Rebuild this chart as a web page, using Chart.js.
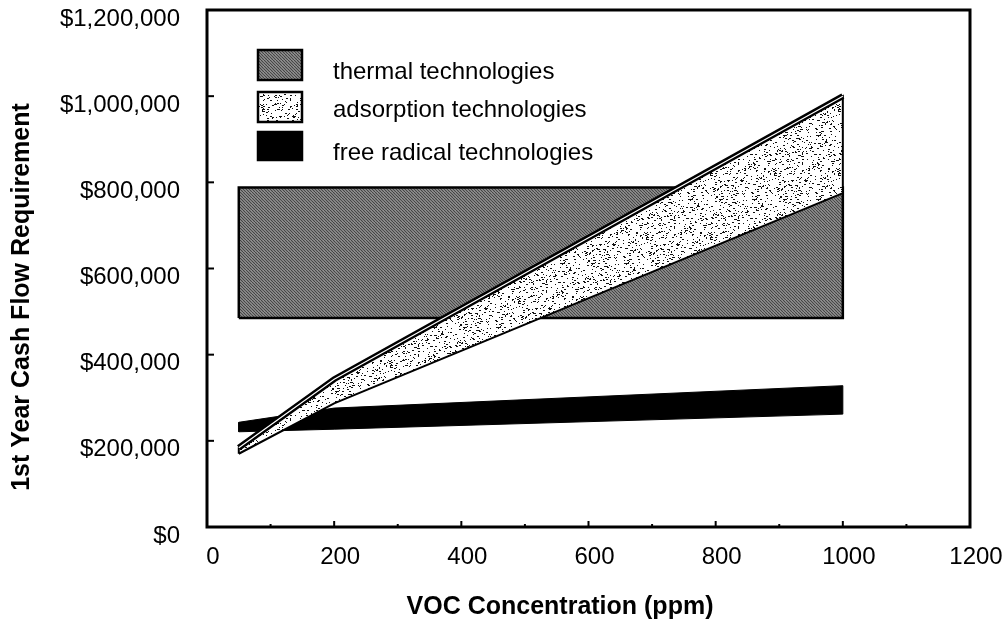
<!DOCTYPE html>
<html>
<head>
<meta charset="utf-8">
<script src="https://cdn.jsdelivr.net/npm/chart.js@4.4.1/dist/chart.umd.min.js"></script>
<style>
  html, body { margin: 0; padding: 0; background: #fff; }
  #wrap { width: 1005px; height: 628px; }
</style>
</head>
<body>
<div id="wrap"><canvas id="costChart" width="1005" height="628"></canvas></div>
<script>
/* ---------- DATA ---------- */
// VOC concentration (ppm) where each band starts / bends / ends
let thermalPpm = [50, 1000];
let thermalLow = [485000, 485000];
let thermalHigh = [788000, 788000];

let adsorptionPpm = [50, 200, 1000];
let adsorptionLow = [170000, 287000, 775000];
let adsorptionHigh = [184000, 343000, 1000000];

let radicalPpm = [50, 200, 1000];
let radicalLow = [221000, 227000, 262000];
let radicalHigh = [243000, 276000, 328000];

let legendLabels = ["thermal technologies", "adsorption technologies", "free radical technologies"];

const FONT = "'Liberation Sans', Arial, sans-serif";

/* ---------- FILL TEXTURES ---------- */
function hatchPattern(ctx) {
    let c = document.createElement("canvas");
    c.width = 6; c.height = 6;
    let g = c.getContext("2d");
    g.fillStyle = "#a2a2a2";
    g.fillRect(0, 0, 6, 6);
    g.strokeStyle = "#444";
    g.lineWidth = 1.2;
    for (let k = -6; k <= 12; k += 3) {
        g.beginPath();
        g.moveTo(k, 0);
        g.lineTo(k + 6, 6);
        g.stroke();
    }
    return ctx.createPattern(c, "repeat");
}

function stipplePattern(ctx) {
    let c = document.createElement("canvas");
    c.width = 64; c.height = 64;
    let g = c.getContext("2d");
    g.fillStyle = "#fff";
    g.fillRect(0, 0, 64, 64);
    g.fillStyle = "#111";
    let s = 12345;
    for (let k = 0; k < 420; k++) {
        s = (s * 16807) % 2147483647;
        let px = s % 64;
        s = (s * 16807) % 2147483647;
        let py = s % 64;
        g.fillRect(px, py, (k % 3 === 0) ? 2 : 1, 1);
    }
    return ctx.createPattern(c, "repeat");
}

// closed outline: along the low edge, back along the high edge
function band(ppm, low, high) {
    let pts = ppm.map((x, i) => ({ x: x, y: low[i] }));
    for (let i = ppm.length - 1; i >= 0; i--) pts.push({ x: ppm[i], y: high[i] });
    pts.push({ x: ppm[0], y: low[0] });
    return pts;
}

let canvas = document.getElementById("costChart");
let ctx = canvas.getContext("2d");
let hatch = hatchPattern(ctx);
let stipple = stipplePattern(ctx);

/* ---------- FRAME, TICKS, LEGEND, TITLES ---------- */
const decorations = {
    id: "decorations",
    afterDatasetsDraw(chart) {
        let c = chart.ctx;
        let a = chart.chartArea;
        let xs = chart.scales.x;
        let ys = chart.scales.y;
        c.save();
        c.strokeStyle = "#000";
        c.lineWidth = 3;
        c.strokeRect(a.left, a.top, a.right - a.left, a.bottom - a.top);

        c.lineWidth = 2;
        for (let v = 100; v < 1200; v += 100) {
            let px = xs.getPixelForValue(v);
            let len = v % 200 === 0 ? 6 : 3;
            c.beginPath();
            c.moveTo(px, a.bottom);
            c.lineTo(px, a.bottom - len);
            c.stroke();
        }
        for (let v = 200000; v < 1200000; v += 200000) {
            let py = ys.getPixelForValue(v);
            c.beginPath();
            c.moveTo(a.left, py);
            c.lineTo(a.left + 7, py);
            c.stroke();
        }
        c.restore();
    },
    afterDraw(chart) {
        let c = chart.ctx;
        let a = chart.chartArea;
        c.save();

        // legend boxes
        let fills = [hatch, stipple, "#000"];
        let boxTops = [40, 82, 122];
        let boxH = [30, 30, 28];
        let textY = [62, 100, 143];
        for (let i = 0; i < legendLabels.length; i++) {
            let bx = a.left + 51, by = a.top + boxTops[i];
            c.fillStyle = fills[i];
            c.fillRect(bx, by, 44, boxH[i]);
            c.strokeStyle = "#000";
            c.lineWidth = 2.5;
            c.strokeRect(bx, by, 44, boxH[i]);
            c.fillStyle = "#000";
            c.font = "24px " + FONT;
            c.textBaseline = "middle";
            c.textAlign = "left";
            c.fillText(legendLabels[i], a.left + 126, a.top + textY[i]);
        }

        // axis titles
        c.font = "bold 25px " + FONT;
        c.textAlign = "center";
        c.textBaseline = "middle";
        c.fillText("VOC Concentration (ppm)", 560, 607);
        c.translate(22, 297);
        c.rotate(-Math.PI / 2);
        c.fillText("1st Year Cash Flow Requirement", 0, 0);
        c.restore();
    }
};

/* ---------- CHART ---------- */
let chart = new Chart(ctx, {
    type: "line",
    data: {
        datasets: [
            {
                label: "adsorption technologies",
                data: band(adsorptionPpm, adsorptionLow, adsorptionHigh),
                backgroundColor: stipple,
                borderColor: "#000",
                borderWidth: 2,
                fill: "shape",
                order: 2
            },
            {
                label: "adsorption upper",
                data: adsorptionPpm.map((x, i) => ({ x: x, y: adsorptionHigh[i] })),
                borderColor: "#000",
                borderWidth: 6,
                fill: false,
                order: 1
            },
            {
                label: "adsorption upper gap",
                data: adsorptionPpm.map((x, i) => ({ x: x, y: adsorptionHigh[i] })),
                borderColor: "#fff",
                borderWidth: 1.2,
                fill: false,
                order: 0
            },
            {
                label: "free radical technologies",
                data: band(radicalPpm, radicalLow, radicalHigh),
                backgroundColor: "#000",
                borderColor: "#000",
                borderWidth: 1,
                fill: "shape",
                order: 3
            },
            {
                label: "thermal technologies",
                data: band(thermalPpm, thermalLow, thermalHigh),
                backgroundColor: hatch,
                borderColor: "#000",
                borderWidth: 2.5,
                fill: "shape",
                order: 4
            }
        ]
    },
    options: {
        responsive: false,
        animation: false,
        events: [],
        layout: { padding: { top: 10, right: 35, left: 0, bottom: 0 } },
        elements: {
            point: { radius: 0 },
            line: { tension: 0, borderJoinStyle: "miter" }
        },
        plugins: {
            legend: { display: false },
            tooltip: { enabled: false }
        },
        scales: {
            x: {
                type: "linear",
                min: 0,
                max: 1200,
                grid: { display: false, drawTicks: false },
                border: { display: false },
                ticks: {
                    stepSize: 200,
                    color: "#000",
                    padding: 16,
                    labelOffset: 6,
                    maxRotation: 0,
                    font: { family: FONT, size: 24 },
                    callback: v => String(v)
                },
                afterFit: s => {
                    s.height = 101;
                    s.paddingLeft = 0;
                    s.paddingRight = 0;
                }
            },
            y: {
                min: 0,
                max: 1200000,
                grid: { display: false, drawTicks: false },
                border: { display: false },
                ticks: {
                    stepSize: 200000,
                    color: "#000",
                    padding: 27,
                    labelOffset: 9,
                    font: { family: FONT, size: 24 },
                    callback: v => "$" + Number(v).toLocaleString("en-US")
                },
                afterFit: s => {
                    s.width = 207;
                    s.paddingTop = 0;
                    s.paddingBottom = 0;
                }
            }
        }
    },
    plugins: [decorations]
});
</script>
</body>
</html>
